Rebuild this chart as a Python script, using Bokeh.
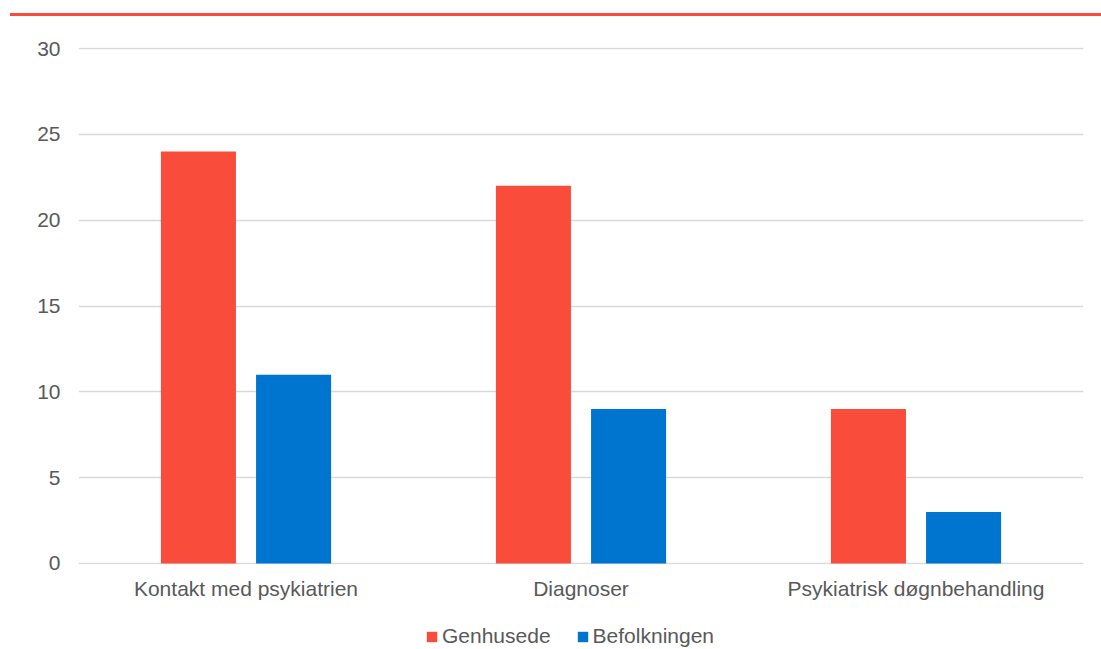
from bokeh.plotting import figure
from bokeh.models import ColumnDataSource, FactorRange, Range1d, Legend, LegendItem, Div, FixedTicker
from bokeh.transform import dodge
from bokeh.layouts import column
from bokeh.embed import file_html
from bokeh.resources import INLINE

categories = ["Kontakt med psykiatrien", "Diagnoser", "Psykiatrisk døgnbehandling"]
genhusede = [24, 22, 9]
befolkningen = [11, 9, 3]
series_names = ["Genhusede", "Befolkningen"]
series_colors = ["#F94C3B", "#0075CF"]
y_ticks = [0, 5, 10, 15, 20, 25, 30]

FONT = "Liberation Sans"
TXT = "#595959"

src = ColumnDataSource(dict(cat=categories, g=genhusede, b=befolkningen))

p = figure(x_range=FactorRange(*categories), y_range=Range1d(-0.06, 30.06),
           width=1093, height=590, output_backend="svg", toolbar_location=None,
           min_border_left=78, min_border_right=10, min_border_top=31, min_border_bottom=42)

r1 = p.vbar(x=dodge("cat", -0.142, range=p.x_range), top="g", width=0.224,
            source=src, color=series_colors[0], line_color=None)
r2 = p.vbar(x=dodge("cat", 0.142, range=p.x_range), top="b", width=0.224,
            source=src, color=series_colors[1], line_color=None)

p.outline_line_color = None
p.xgrid.grid_line_color = None
p.ygrid.grid_line_color = "#D9D9D9"
p.ygrid.grid_line_width = 1.5
p.yaxis.ticker = FixedTicker(ticks=y_ticks)

for ax in (p.xaxis[0], p.yaxis[0]):
    ax.axis_line_color = None
    ax.major_tick_line_color = None
    ax.minor_tick_line_color = None
    ax.major_label_text_font = FONT
    ax.major_label_text_font_size = "21px"
    ax.major_label_text_color = TXT
p.yaxis.major_label_standoff = 12
p.xaxis.major_label_standoff = 6

# legend strip (separate small figure so the legend is not clipped)
lg = figure(x_range=Range1d(0, 1), y_range=Range1d(0, 1), width=1093, height=43,
            x_axis_type=None, y_axis_type=None,
            output_backend="svg", toolbar_location=None,
            min_border_left=0, min_border_right=0, min_border_top=0, min_border_bottom=0)
lg.grid.visible = False
lg.outline_line_color = None
# legend-only renderers, kept outside the visible range
e1 = lg.vbar(x=[-5], top=[0], width=0.1, color=series_colors[0], line_color=None)
e2 = lg.vbar(x=[-5], top=[0], width=0.1, color=series_colors[1], line_color=None)

legend = Legend(items=[LegendItem(label=series_names[0], renderers=[e1]),
                       LegendItem(label=series_names[1], renderers=[e2])],
                orientation="horizontal", location=(347, 1),
                glyph_width=13, glyph_height=13, label_standoff=4, spacing=25,
                padding=0, margin=0, border_line_color=None, background_fill_alpha=0,
                label_text_font=FONT, label_text_font_size="21px", label_text_color=TXT)
lg.add_layout(legend, "center")

bar = Div(width=1091, height=3, margin=(13, 0, 0, 10),
          styles={"background-color": "#F94C3B"})

layout = column(bar, p, lg, spacing=0)
open("out.html", "w").write(file_html(layout, INLINE))
